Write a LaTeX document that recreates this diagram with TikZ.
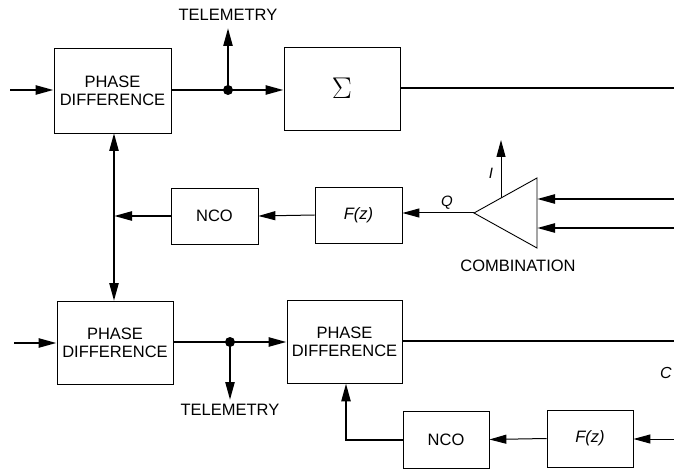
\documentclass[tikz,border=0pt]{standalone}
\usepackage{fontspec}
\setmainfont{Liberation Sans}
\newfontfamily\lmfont{Latin Modern Roman}
\usetikzlibrary{arrows.meta}
\begin{document}
\begin{tikzpicture}[x=1pt,y=-1pt,
  box/.style={draw,line width=0.8pt,inner sep=0pt,align=center,
    font=\fontsize{16.5}{18}\selectfont},
  lbl/.style={inner sep=0pt,font=\fontsize{16.5}{18}\selectfont},
  thick line/.style={line width=2.4pt},
  thin line/.style={line width=1pt},
  bighead/.style={-{Triangle[length=18pt,width=9pt]}},
  smallhead/.style={-{Triangle[length=17pt,width=9pt]}}
]
\clip (0,0) rectangle (674,470);
\useasboundingbox (0,0) rectangle (674,470);

% boxes
\node[box,minimum width=117pt,minimum height=85pt] (pd1) at (112.5,90.5) {PHASE\\DIFFERENCE};
\node[box,minimum width=116pt,minimum height=83pt] (sum) at (342,88.5) {\lmfont\fontsize{30}{32}\selectfont Σ};
\node[box,minimum width=87pt,minimum height=56pt] (nco1) at (214.5,216) {NCO};
\node[box,minimum width=87pt,minimum height=56pt] (fz1) at (358.5,215) {\itshape F(z)};
\node[box,minimum width=116pt,minimum height=83pt] (pd2) at (115,342.5) {PHASE\\DIFFERENCE};
\node[box,minimum width=115pt,minimum height=83pt] (pd3) at (344.5,341.5) {PHASE\\DIFFERENCE};
\node[box,minimum width=86pt,minimum height=57pt] (nco2) at (446,439.5) {NCO};
\node[box,minimum width=86pt,minimum height=57pt] (fz2) at (590,438.5) {\itshape F(z)};

% combination triangle
\coordinate (ctip) at (474,213);
\coordinate (ctop) at (537,178);
\coordinate (cbot) at (537,248);
\draw[line width=0.9pt] (ctip) -- (ctop) -- (cbot) -- cycle;
\coordinate (cin1) at (537,199);
\coordinate (cin2) at (537,228);
\coordinate (cI) at (501,198);
\node[lbl] (comb) at (518,266) {COMBINATION};
\node[lbl,font=\fontsize{15}{17}\selectfont\itshape] (qlab) at (447,203) {Q};
\node[lbl,font=\fontsize{15}{17}\selectfont\itshape] (ilab) at (491,173) {I};

% free ends
\coordinate (in1) at (10,90);
\coordinate (in2) at (14,343);
\coordinate (out1) at (674,88);
\coordinate (out2) at (674,341);
\coordinate (r1) at (674,199);
\coordinate (r2) at (674,228);
\coordinate (r3) at (674,439);
\coordinate (j1) at (228,90);
\coordinate (j2) at (230,342);
\coordinate (t1) at (228,28);
\coordinate (t2) at (230,400);
\coordinate (Itop) at (501,140);
\coordinate (v1) at (114,216);
\coordinate (corner) at (346,440);

\node[lbl] (tel1) at (228,15) {TELEMETRY};
\node[lbl] (tel2) at (230,410) {TELEMETRY};
\node[lbl,font=\fontsize{16}{18}\selectfont\itshape,anchor=west] (clab) at (660,373) {C};

% top chain
\draw[thick line,bighead] (in1) -- (pd1.west |- in1);
\draw[thick line,bighead] (pd1.east |- j1) -- (sum.west |- j1);
\draw[thick line,bighead] (j1) -- (t1);
\fill (j1) circle (5pt);
\draw[thick line] (sum.east |- out1) -- (out1);

% vertical bidirectional link
\draw[thick line,{Triangle[length=18pt,width=9pt]}-{Triangle[length=18pt,width=9pt]}] (114,133) -- (114,301);
\draw[thick line,bighead] (nco1.west) -- (v1);

% top feedback thin lines
\draw[thin line,smallhead] (fz1.west) -- (nco1.east);
\draw[thin line,smallhead] (ctip) -- (fz1.east |- ctip);
\draw[thin line,smallhead] (cI) -- (Itop);
\draw[thick line,bighead] (r1) -- (cin1);
\draw[thick line,bighead] (r2) -- (cin2);

% bottom chain
\draw[thick line,bighead] (in2) -- (pd2.west |- in2);
\draw[thick line,bighead] (pd2.east |- j2) -- (pd3.west |- j2);
\draw[thick line,bighead] (j2) -- (t2);
\fill (j2) circle (5pt);
\draw[thick line] (pd3.east |- out2) -- (out2);

% bottom feedback
\draw[thick line,bighead] (nco2.west |- corner) -- (corner) -- (corner |- pd3.south);
\draw[thin line,smallhead] (fz2.west) -- (nco2.east);
\draw[thin line,smallhead] (r3) -- (fz2.east |- r3);
\end{tikzpicture}
\end{document}
